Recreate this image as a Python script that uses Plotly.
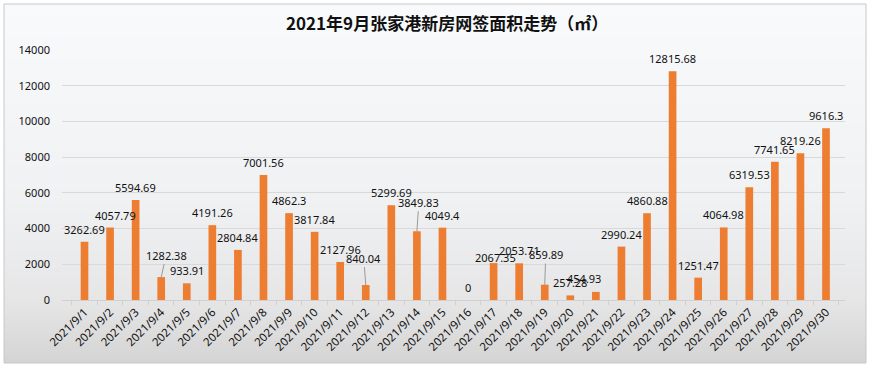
import plotly.graph_objects as go

# ---- data ----
dates = [f"2021/9/{d}" for d in range(1, 31)]
areas = [3262.69, 4057.79, 5594.69, 1282.38, 933.91, 4191.26, 2804.84, 7001.56, 4862.3, 3817.84,
         2127.96, 840.04, 5299.69, 3849.83, 4049.4, 0, 2067.35, 2053.71, 859.89, 257.28,
         454.93, 2990.24, 4860.88, 12815.68, 1251.47, 4064.98, 6319.53, 7741.65, 8219.26, 9616.3]
y_ticks = [0, 2000, 4000, 6000, 8000, 10000, 12000, 14000]
title_text = "2021年9月张家港新房网签面积走势（㎡）"

# ---- label placement style (pixel offsets) ----
label_dx = [0] * 30
label_dy = [12.5] * 30
leader = [False] * 30
for i, dx, dy, ld in [(1, 5, 12.5, False), (3, 5, 22, True), (11, -2, 27, True), (13, 2, 29, True),
                      (16, 2, 6, False), (18, 1, 30, True), (20, -12, 13, False)]:
    label_dx[i] = dx
    label_dy[i] = dy
    leader[i] = ld

BAR = "#ED7D31"
L, R, T, B = 62, 25, 50, 68
W, H = 870, 368
PW, PH = W - L - R, H - T - B


def px(X):
    return (X - L) / PW


def py(Y):
    return (H - B - Y) / PH


def fmt(v):
    return str(int(v)) if v == int(v) else repr(v)


fig = go.Figure()
fig.add_trace(go.Bar(x=dates, y=areas, marker_color=BAR, marker_line_width=0, width=0.3,
                     hoverinfo="x+y"))

# background gradient bands
def lerp(c1, c2, t):
    return tuple(round(a + (b - a) * t) for a, b in zip(c1, c2))

stops = [(4, (248, 250, 252)), (200, (240, 241, 243)), (300, (230, 230, 231)), (363, (212, 212, 212))]
shapes = []
y = 4
step = 3
while y < 363:
    y2 = min(y + step, 363)
    mid = (y + y2) / 2
    for (a, ca), (b, cb) in zip(stops[:-1], stops[1:]):
        if a <= mid <= b:
            c = lerp(ca, cb, (mid - a) / (b - a))
            break
    shapes.append(dict(type="rect", xref="paper", yref="paper", layer="below",
                       x0=px(4), x1=px(866), y0=py(y2), y1=py(y),
                       fillcolor=f"rgb{c}", line_width=0))
    y = y2
shapes.append(dict(type="rect", xref="paper", yref="paper", layer="above",
                   x0=px(4), x1=px(866), y0=py(363), y1=py(4),
                   fillcolor="rgba(0,0,0,0)", line=dict(color="#c8c8c8", width=1)))

LABEL_FONT = dict(family="Noto Sans, Arial", size=11, color="#111111")
annotations = []
for i, (d, v) in enumerate(zip(dates, areas)):
    txt = fmt(v)
    if leader[i]:
        annotations.append(dict(x=d, y=v, xref="x", yref="y", text=txt, showarrow=True,
                                arrowhead=0, arrowwidth=1, arrowcolor="#9a9a9a",
                                ax=label_dx[i], ay=-label_dy[i], standoff=0,
                                font=LABEL_FONT))
    else:
        annotations.append(dict(x=d, y=v, xref="x", yref="y", text=txt, showarrow=False,
                                xshift=label_dx[i], yshift=label_dy[i],
                                font=LABEL_FONT))

annotations.append(dict(text=f"<b>{title_text}</b>", xref="paper", yref="paper",
                        x=px(447), y=py(23), showarrow=False, xanchor="center", yanchor="middle",
                        font=dict(family="Noto Sans CJK SC", size=17, color="#111111")))

fig.update_layout(
    width=W, height=H,
    margin=dict(l=L, r=R, t=T, b=B, pad=0, autoexpand=False),
    paper_bgcolor="white",
    plot_bgcolor="rgba(0,0,0,0)",
    showlegend=False,
    bargap=0.7,
    shapes=shapes,
    annotations=annotations,
    xaxis=dict(type="category", tickangle=-45, showgrid=False, automargin=False,
               showline=True, linecolor="#d0d0d0", linewidth=1,
               ticks="outside", tickson="boundaries", ticklen=4, tickcolor="#d0d0d0",
               tickfont=dict(family="Noto Sans, Arial", size=11.5, color="#111111")),
    yaxis=dict(range=[0, 14000], tickvals=y_ticks, ticktext=[str(t) for t in y_ticks],
               showgrid=True, gridcolor="#d9d9d9", gridwidth=1, zeroline=False, automargin=False,
               showline=False, ticks="", ticklabelstandoff=11,
               tickfont=dict(family="Noto Sans, Arial", size=11, color="#111111")),
)

fig.write_html("out.html",
               config={"displayModeBar": False},
               post_script="document.body.style.margin='0';document.body.style.padding='0';"
                           "document.body.style.overflow='hidden';")
